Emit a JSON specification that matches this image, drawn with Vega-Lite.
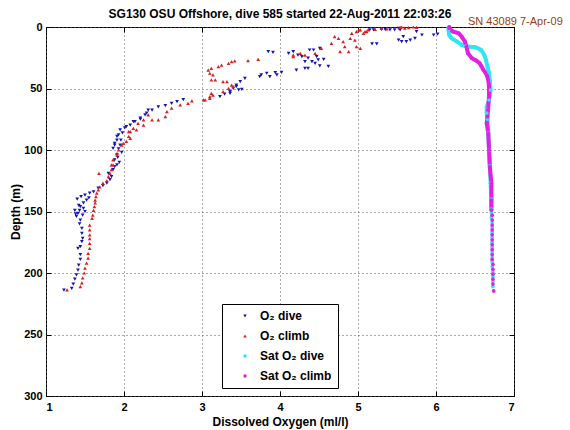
{
  "$schema": "https://vega.github.io/schema/vega-lite/v6.json",
  "width": 468,
  "height": 369,
  "autosize": {"type": "none"},
  "padding": {"left": 46, "top": 27, "right": 56, "bottom": 34},
  "background": "white",
  "title": {"text": "SG130 OSU Offshore, dive 585 started 22-Aug-2011 22:03:26", "font": "Liberation Sans", "fontSize": 12, "fontWeight": "bold", "color": "black", "offset": 8, "dy": 13, "anchor": "middle"},
  "config": {
    "view": {"stroke": "black", "strokeWidth": 1},
    "axis": {"labelFont": "Liberation Sans", "labelFontSize": 11, "labelFontWeight": "bold", "labelColor": "black", "tickColor": "black", "domain": false, "gridDash": [1, 3], "gridColor": "#555", "gridOpacity": 1, "titleFont": "Liberation Sans", "titleFontSize": 12, "titleFontWeight": "bold", "titleColor": "black"},
    "legend": {"orient": "none", "legendX": 176, "legendY": 277, "strokeColor": "black", "fillColor": "white", "padding": 6, "symbolOffset": 11, "labelOffset": 9, "labelFont": "Liberation Sans", "labelFontSize": 12, "labelFontWeight": "bold", "labelColor": "black", "symbolSize": 12, "rowPadding": 8}
  },
  "datasets": {
    "obs": [
      {"series":"O₂ dive","o2":5.15,"depth":2.4},{"series":"O₂ dive","o2":5.20,"depth":2.4},{"series":"O₂ dive","o2":5.30,"depth":2.0},{"series":"O₂ dive","o2":5.35,"depth":2.2},{"series":"O₂ dive","o2":5.41,"depth":2.4},{"series":"O₂ dive","o2":5.47,"depth":2.4},{"series":"O₂ dive","o2":5.52,"depth":1.1},{"series":"O₂ dive","o2":5.54,"depth":2.4},{"series":"O₂ dive","o2":5.75,"depth":3.8},{"series":"O₂ dive","o2":5.82,"depth":6.5},{"series":"O₂ dive","o2":5.97,"depth":6.5},{"series":"O₂ dive","o2":6.02,"depth":5.7},{"series":"O₂ dive","o2":5.58,"depth":7.9},{"series":"O₂ dive","o2":5.73,"depth":9.2},{"series":"O₂ dive","o2":5.67,"depth":10.6},{"series":"O₂ dive","o2":5.52,"depth":10.6},{"series":"O₂ dive","o2":5.56,"depth":11.9},{"series":"O₂ dive","o2":5.62,"depth":11.9},{"series":"O₂ dive","o2":5.18,"depth":13.8},{"series":"O₂ dive","o2":5.24,"depth":13.8},
      {"series":"O₂ dive","o2":4.38,"depth":18.7},{"series":"O₂ dive","o2":4.43,"depth":18.7},{"series":"O₂ dive","o2":4.51,"depth":17.4},{"series":"O₂ dive","o2":3.85,"depth":20.0},{"series":"O₂ dive","o2":3.91,"depth":20.6},{"series":"O₂ dive","o2":4.11,"depth":21.4},{"series":"O₂ dive","o2":4.17,"depth":20.0},{"series":"O₂ dive","o2":4.23,"depth":22.8},{"series":"O₂ dive","o2":4.28,"depth":24.1},{"series":"O₂ dive","o2":4.47,"depth":24.1},{"series":"O₂ dive","o2":4.36,"depth":25.4},{"series":"O₂ dive","o2":4.56,"depth":26.3},{"series":"O₂ dive","o2":4.49,"depth":26.8},{"series":"O₂ dive","o2":4.32,"depth":28.2},{"series":"O₂ dive","o2":4.41,"depth":28.2},{"series":"O₂ dive","o2":4.45,"depth":29.5},{"series":"O₂ dive","o2":4.51,"depth":31.7},{"series":"O₂ dive","o2":4.62,"depth":32.0},{"series":"O₂ dive","o2":4.32,"depth":33.6},{"series":"O₂ dive","o2":4.36,"depth":33.6},{"series":"O₂ dive","o2":4.21,"depth":35.0},{"series":"O₂ dive","o2":4.02,"depth":36.8},{"series":"O₂ dive","o2":3.94,"depth":37.1},{"series":"O₂ dive","o2":3.83,"depth":37.6},{"series":"O₂ dive","o2":3.76,"depth":39.0},{"series":"O₂ dive","o2":3.96,"depth":39.0},{"series":"O₂ dive","o2":3.74,"depth":40.4},{"series":"O₂ dive","o2":3.87,"depth":40.4},{"series":"O₂ dive","o2":3.55,"depth":41.7},{"series":"O₂ dive","o2":3.49,"depth":44.4},{"series":"O₂ dive","o2":3.44,"depth":47.2},{"series":"O₂ dive","o2":3.44,"depth":48.5},{"series":"O₂ dive","o2":3.40,"depth":49.9},{"series":"O₂ dive","o2":3.51,"depth":50.7},{"series":"O₂ dive","o2":3.47,"depth":51.2},{"series":"O₂ dive","o2":3.36,"depth":52.6},{"series":"O₂ dive","o2":3.36,"depth":54.0},{"series":"O₂ dive","o2":3.29,"depth":54.5},{"series":"O₂ dive","o2":3.23,"depth":56.7},
      {"series":"O₂ dive","o2":2.76,"depth":59.0},{"series":"O₂ dive","o2":2.68,"depth":60.7},{"series":"O₂ dive","o2":2.61,"depth":62.0},{"series":"O₂ dive","o2":2.53,"depth":64.0},{"series":"O₂ dive","o2":2.44,"depth":65.0},{"series":"O₂ dive","o2":2.36,"depth":67.5},{"series":"O₂ dive","o2":2.31,"depth":67.5},{"series":"O₂ dive","o2":2.29,"depth":70.0},{"series":"O₂ dive","o2":2.27,"depth":71.5},{"series":"O₂ dive","o2":2.21,"depth":74.0},{"series":"O₂ dive","o2":2.21,"depth":75.0},{"series":"O₂ dive","o2":2.14,"depth":77.0},{"series":"O₂ dive","o2":2.12,"depth":77.0},{"series":"O₂ dive","o2":2.08,"depth":79.7},{"series":"O₂ dive","o2":2.03,"depth":81.0},{"series":"O₂ dive","o2":2.01,"depth":82.0},{"series":"O₂ dive","o2":1.95,"depth":83.7},{"series":"O₂ dive","o2":1.98,"depth":86.0},{"series":"O₂ dive","o2":1.93,"depth":87.8},{"series":"O₂ dive","o2":1.91,"depth":89.0},{"series":"O₂ dive","o2":1.91,"depth":91.9},{"series":"O₂ dive","o2":1.96,"depth":92.0},{"series":"O₂ dive","o2":1.88,"depth":94.6},{"series":"O₂ dive","o2":1.95,"depth":96.0},{"series":"O₂ dive","o2":1.88,"depth":96.0},{"series":"O₂ dive","o2":1.86,"depth":98.6},{"series":"O₂ dive","o2":1.93,"depth":99.0},{"series":"O₂ dive","o2":1.97,"depth":102.0},{"series":"O₂ dive","o2":1.91,"depth":104.0},{"series":"O₂ dive","o2":1.92,"depth":106.0},{"series":"O₂ dive","o2":1.88,"depth":108.0},{"series":"O₂ dive","o2":1.94,"depth":110.0},{"series":"O₂ dive","o2":1.91,"depth":112.0},{"series":"O₂ dive","o2":1.88,"depth":113.6},{"series":"O₂ dive","o2":1.86,"depth":116.0},{"series":"O₂ dive","o2":1.80,"depth":119.0},{"series":"O₂ dive","o2":1.84,"depth":121.7},{"series":"O₂ dive","o2":1.82,"depth":124.0},{"series":"O₂ dive","o2":1.78,"depth":127.0},{"series":"O₂ dive","o2":1.73,"depth":129.0},{"series":"O₂ dive","o2":1.67,"depth":131.0},{"series":"O₂ dive","o2":1.61,"depth":134.0},{"series":"O₂ dive","o2":1.56,"depth":135.0},{"series":"O₂ dive","o2":1.50,"depth":136.6},{"series":"O₂ dive","o2":1.45,"depth":138.0},{"series":"O₂ dive","o2":1.55,"depth":139.0},{"series":"O₂ dive","o2":1.40,"depth":140.0},{"series":"O₂ dive","o2":1.52,"depth":140.7},{"series":"O₂ dive","o2":1.48,"depth":143.0},{"series":"O₂ dive","o2":1.42,"depth":145.0},{"series":"O₂ dive","o2":1.44,"depth":146.0},{"series":"O₂ dive","o2":1.48,"depth":147.4},{"series":"O₂ dive","o2":1.37,"depth":149.0},{"series":"O₂ dive","o2":1.43,"depth":149.0},{"series":"O₂ dive","o2":1.50,"depth":150.0},{"series":"O₂ dive","o2":1.41,"depth":151.5},{"series":"O₂ dive","o2":1.38,"depth":152.0},{"series":"O₂ dive","o2":1.47,"depth":153.0},{"series":"O₂ dive","o2":1.39,"depth":154.0},{"series":"O₂ dive","o2":1.44,"depth":157.0},{"series":"O₂ dive","o2":1.43,"depth":160.0},{"series":"O₂ dive","o2":1.46,"depth":163.7},{"series":"O₂ dive","o2":1.46,"depth":167.7},{"series":"O₂ dive","o2":1.47,"depth":171.8},{"series":"O₂ dive","o2":1.46,"depth":174.5},{"series":"O₂ dive","o2":1.44,"depth":178.6},{"series":"O₂ dive","o2":1.41,"depth":180.0},{"series":"O₂ dive","o2":1.44,"depth":185.0},{"series":"O₂ dive","o2":1.44,"depth":189.0},{"series":"O₂ dive","o2":1.42,"depth":193.5},{"series":"O₂ dive","o2":1.41,"depth":197.6},{"series":"O₂ dive","o2":1.39,"depth":201.6},{"series":"O₂ dive","o2":1.37,"depth":205.0},{"series":"O₂ dive","o2":1.35,"depth":209.0},{"series":"O₂ dive","o2":1.33,"depth":212.5},{"series":"O₂ dive","o2":1.23,"depth":214.0},
      {"series":"O₂ climb","o2":5.56,"depth":0.0},{"series":"O₂ climb","o2":5.71,"depth":0.0},{"series":"O₂ climb","o2":5.54,"depth":0.3},{"series":"O₂ climb","o2":5.75,"depth":0.3},{"series":"O₂ climb","o2":5.65,"depth":0.5},{"series":"O₂ climb","o2":5.60,"depth":1.0},{"series":"O₂ climb","o2":5.30,"depth":1.1},{"series":"O₂ climb","o2":5.37,"depth":1.6},{"series":"O₂ climb","o2":5.22,"depth":1.9},{"series":"O₂ climb","o2":5.01,"depth":2.4},{"series":"O₂ climb","o2":5.03,"depth":2.4},{"series":"O₂ climb","o2":5.13,"depth":2.4},{"series":"O₂ climb","o2":4.98,"depth":3.8},{"series":"O₂ climb","o2":5.09,"depth":3.8},{"series":"O₂ climb","o2":5.11,"depth":3.8},{"series":"O₂ climb","o2":4.92,"depth":5.1},{"series":"O₂ climb","o2":5.07,"depth":5.1},{"series":"O₂ climb","o2":4.70,"depth":7.9},{"series":"O₂ climb","o2":4.75,"depth":9.2},{"series":"O₂ climb","o2":4.90,"depth":9.2},{"series":"O₂ climb","o2":4.96,"depth":10.6},{"series":"O₂ climb","o2":4.81,"depth":11.9},{"series":"O₂ climb","o2":4.66,"depth":13.3},{"series":"O₂ climb","o2":4.83,"depth":16.0},{"series":"O₂ climb","o2":4.98,"depth":16.0},{"series":"O₂ climb","o2":4.53,"depth":17.4},{"series":"O₂ climb","o2":5.03,"depth":17.4},{"series":"O₂ climb","o2":4.77,"depth":20.0},{"series":"O₂ climb","o2":4.88,"depth":20.0},{"series":"O₂ climb","o2":4.26,"depth":21.4},{"series":"O₂ climb","o2":4.45,"depth":21.4},{"series":"O₂ climb","o2":4.17,"depth":22.8},{"series":"O₂ climb","o2":4.32,"depth":22.8},{"series":"O₂ climb","o2":4.17,"depth":24.1},{"series":"O₂ climb","o2":3.72,"depth":26.3},{"series":"O₂ climb","o2":3.59,"depth":27.4},{"series":"O₂ climb","o2":3.42,"depth":27.6},{"series":"O₂ climb","o2":3.38,"depth":28.2},{"series":"O₂ climb","o2":3.34,"depth":29.5},{"series":"O₂ climb","o2":3.25,"depth":30.9},{"series":"O₂ climb","o2":3.21,"depth":32.3},{"series":"O₂ climb","o2":3.12,"depth":33.6},{"series":"O₂ climb","o2":3.08,"depth":35.0},{"series":"O₂ climb","o2":3.10,"depth":37.6},{"series":"O₂ climb","o2":3.14,"depth":39.0},{"series":"O₂ climb","o2":3.12,"depth":43.0},{"series":"O₂ climb","o2":3.17,"depth":43.0},{"series":"O₂ climb","o2":3.27,"depth":44.4},{"series":"O₂ climb","o2":3.32,"depth":44.4},{"series":"O₂ climb","o2":3.38,"depth":47.2},{"series":"O₂ climb","o2":3.40,"depth":48.5},{"series":"O₂ climb","o2":3.34,"depth":49.9},{"series":"O₂ climb","o2":3.27,"depth":52.6},{"series":"O₂ climb","o2":3.12,"depth":54.0},{"series":"O₂ climb","o2":3.14,"depth":55.3},{"series":"O₂ climb","o2":3.10,"depth":56.7},{"series":"O₂ climb","o2":3.10,"depth":58.0},{"series":"O₂ climb","o2":3.02,"depth":59.3},{"series":"O₂ climb","o2":3.04,"depth":59.3},{"series":"O₂ climb","o2":2.87,"depth":60.0},{"series":"O₂ climb","o2":2.82,"depth":62.0},{"series":"O₂ climb","o2":2.72,"depth":63.4},{"series":"O₂ climb","o2":2.61,"depth":66.0},{"series":"O₂ climb","o2":2.55,"depth":68.8},{"series":"O₂ climb","o2":2.31,"depth":71.5},{"series":"O₂ climb","o2":2.53,"depth":72.9},{"series":"O₂ climb","o2":2.25,"depth":75.6},{"series":"O₂ climb","o2":2.36,"depth":75.6},{"series":"O₂ climb","o2":2.44,"depth":75.6},{"series":"O₂ climb","o2":2.18,"depth":78.3},{"series":"O₂ climb","o2":2.25,"depth":79.7},{"series":"O₂ climb","o2":2.12,"depth":82.4},{"series":"O₂ climb","o2":2.16,"depth":83.7},{"series":"O₂ climb","o2":2.06,"depth":85.0},{"series":"O₂ climb","o2":2.08,"depth":85.0},{"series":"O₂ climb","o2":2.06,"depth":89.0},{"series":"O₂ climb","o2":2.08,"depth":90.5},{"series":"O₂ climb","o2":2.03,"depth":93.0},{"series":"O₂ climb","o2":1.99,"depth":94.6},{"series":"O₂ climb","o2":1.97,"depth":96.0},{"series":"O₂ climb","o2":1.93,"depth":100.0},{"series":"O₂ climb","o2":1.91,"depth":102.7},{"series":"O₂ climb","o2":1.91,"depth":104.0},{"series":"O₂ climb","o2":1.86,"depth":108.0},{"series":"O₂ climb","o2":1.84,"depth":112.0},{"series":"O₂ climb","o2":1.86,"depth":112.0},{"series":"O₂ climb","o2":1.84,"depth":116.0},{"series":"O₂ climb","o2":1.68,"depth":119.0},{"series":"O₂ climb","o2":1.82,"depth":119.0},{"series":"O₂ climb","o2":1.80,"depth":121.7},{"series":"O₂ climb","o2":1.78,"depth":125.0},{"series":"O₂ climb","o2":1.73,"depth":127.0},{"series":"O₂ climb","o2":1.69,"depth":130.0},{"series":"O₂ climb","o2":1.67,"depth":132.5},{"series":"O₂ climb","o2":1.65,"depth":135.0},{"series":"O₂ climb","o2":1.64,"depth":138.0},{"series":"O₂ climb","o2":1.63,"depth":140.7},{"series":"O₂ climb","o2":1.63,"depth":143.0},{"series":"O₂ climb","o2":1.62,"depth":146.0},{"series":"O₂ climb","o2":1.61,"depth":149.0},{"series":"O₂ climb","o2":1.60,"depth":153.0},{"series":"O₂ climb","o2":1.59,"depth":155.5},{"series":"O₂ climb","o2":1.56,"depth":161.0},{"series":"O₂ climb","o2":1.56,"depth":165.0},{"series":"O₂ climb","o2":1.56,"depth":169.0},{"series":"O₂ climb","o2":1.56,"depth":172.0},{"series":"O₂ climb","o2":1.56,"depth":176.0},{"series":"O₂ climb","o2":1.56,"depth":180.0},{"series":"O₂ climb","o2":1.54,"depth":184.0},{"series":"O₂ climb","o2":1.54,"depth":188.0},{"series":"O₂ climb","o2":1.52,"depth":192.0},{"series":"O₂ climb","o2":1.50,"depth":196.0},{"series":"O₂ climb","o2":1.49,"depth":200.0},{"series":"O₂ climb","o2":1.47,"depth":204.0},{"series":"O₂ climb","o2":1.46,"depth":208.0},{"series":"O₂ climb","o2":1.44,"depth":211.0},{"series":"O₂ climb","o2":1.27,"depth":213.8},
      {"series":"Sat O₂ dive","o2":6.16,"depth":0.5},{"series":"Sat O₂ dive","o2":6.16,"depth":2.4},{"series":"Sat O₂ dive","o2":6.17,"depth":6.5},{"series":"Sat O₂ dive","o2":6.20,"depth":9.2},{"series":"Sat O₂ dive","o2":6.27,"depth":11.9},{"series":"Sat O₂ dive","o2":6.33,"depth":14.6},{"series":"Sat O₂ dive","o2":6.38,"depth":15.5},{"series":"Sat O₂ dive","o2":6.44,"depth":16.0},{"series":"Sat O₂ dive","o2":6.50,"depth":16.3},{"series":"Sat O₂ dive","o2":6.54,"depth":17.4},{"series":"Sat O₂ dive","o2":6.58,"depth":18.7},{"series":"Sat O₂ dive","o2":6.62,"depth":22.8},{"series":"Sat O₂ dive","o2":6.64,"depth":26.8},{"series":"Sat O₂ dive","o2":6.66,"depth":32.3},{"series":"Sat O₂ dive","o2":6.68,"depth":37.6},{"series":"Sat O₂ dive","o2":6.69,"depth":43.0},{"series":"Sat O₂ dive","o2":6.70,"depth":51.2},{"series":"Sat O₂ dive","o2":6.68,"depth":59.3},{"series":"Sat O₂ dive","o2":6.65,"depth":64.8},{"series":"Sat O₂ dive","o2":6.65,"depth":70.0},{"series":"Sat O₂ dive","o2":6.66,"depth":75.0},{"series":"Sat O₂ dive","o2":6.67,"depth":86.0},{"series":"Sat O₂ dive","o2":6.68,"depth":100.0},{"series":"Sat O₂ dive","o2":6.69,"depth":113.0},{"series":"Sat O₂ dive","o2":6.70,"depth":127.0},{"series":"Sat O₂ dive","o2":6.71,"depth":140.0},{"series":"Sat O₂ dive","o2":6.71,"depth":148.0},{"series":"Sat O₂ dive","o2":6.71,"depth":151},{"series":"Sat O₂ dive","o2":6.71,"depth":155},{"series":"Sat O₂ dive","o2":6.72,"depth":159},{"series":"Sat O₂ dive","o2":6.72,"depth":163},{"series":"Sat O₂ dive","o2":6.72,"depth":167},{"series":"Sat O₂ dive","o2":6.72,"depth":171},{"series":"Sat O₂ dive","o2":6.72,"depth":175},{"series":"Sat O₂ dive","o2":6.72,"depth":179},{"series":"Sat O₂ dive","o2":6.72,"depth":183},{"series":"Sat O₂ dive","o2":6.72,"depth":187},{"series":"Sat O₂ dive","o2":6.72,"depth":191},{"series":"Sat O₂ dive","o2":6.72,"depth":195},{"series":"Sat O₂ dive","o2":6.73,"depth":199},{"series":"Sat O₂ dive","o2":6.73,"depth":203},{"series":"Sat O₂ dive","o2":6.73,"depth":207},{"series":"Sat O₂ dive","o2":6.73,"depth":211},
      {"series":"Sat O₂ climb","o2":6.17,"depth":0.0},{"series":"Sat O₂ climb","o2":6.17,"depth":1.0},{"series":"Sat O₂ climb","o2":6.22,"depth":3.8},{"series":"Sat O₂ climb","o2":6.29,"depth":5.1},{"series":"Sat O₂ climb","o2":6.33,"depth":7.9},{"series":"Sat O₂ climb","o2":6.37,"depth":11.9},{"series":"Sat O₂ climb","o2":6.39,"depth":16.0},{"series":"Sat O₂ climb","o2":6.41,"depth":21.4},{"series":"Sat O₂ climb","o2":6.46,"depth":25.4},{"series":"Sat O₂ climb","o2":6.52,"depth":27.4},{"series":"Sat O₂ climb","o2":6.56,"depth":29.5},{"series":"Sat O₂ climb","o2":6.61,"depth":35.0},{"series":"Sat O₂ climb","o2":6.65,"depth":39.0},{"series":"Sat O₂ climb","o2":6.67,"depth":43.0},{"series":"Sat O₂ climb","o2":6.68,"depth":48.5},{"series":"Sat O₂ climb","o2":6.68,"depth":56.7},{"series":"Sat O₂ climb","o2":6.67,"depth":64.8},{"series":"Sat O₂ climb","o2":6.66,"depth":72.9},{"series":"Sat O₂ climb","o2":6.65,"depth":78.3},{"series":"Sat O₂ climb","o2":6.67,"depth":86.4},{"series":"Sat O₂ climb","o2":6.68,"depth":100.0},{"series":"Sat O₂ climb","o2":6.69,"depth":113.6},{"series":"Sat O₂ climb","o2":6.71,"depth":127.0},{"series":"Sat O₂ climb","o2":6.71,"depth":140.7},{"series":"Sat O₂ climb","o2":6.71,"depth":148.8},{"series":"Sat O₂ climb","o2":6.72,"depth":153},{"series":"Sat O₂ climb","o2":6.72,"depth":157},{"series":"Sat O₂ climb","o2":6.72,"depth":161},{"series":"Sat O₂ climb","o2":6.72,"depth":165},{"series":"Sat O₂ climb","o2":6.72,"depth":169},{"series":"Sat O₂ climb","o2":6.72,"depth":173},{"series":"Sat O₂ climb","o2":6.72,"depth":177},{"series":"Sat O₂ climb","o2":6.72,"depth":181},{"series":"Sat O₂ climb","o2":6.72,"depth":185},{"series":"Sat O₂ climb","o2":6.72,"depth":189},{"series":"Sat O₂ climb","o2":6.73,"depth":193},{"series":"Sat O₂ climb","o2":6.73,"depth":197},{"series":"Sat O₂ climb","o2":6.73,"depth":201},{"series":"Sat O₂ climb","o2":6.73,"depth":205},{"series":"Sat O₂ climb","o2":6.73,"depth":209},{"series":"Sat O₂ climb","o2":6.74,"depth":214.6}
    ]
  },
  "data": {"name": "obs"},
  "resolve": {"axis": {"x": "independent", "y": "independent"}},
  "layer": [
    {
      "transform": [
        {"filter": {"field": "series", "oneOf": ["Sat O₂ dive", "Sat O₂ climb"]}},
        {"filter": {"field": "depth", "lte": 150}}
      ],
      "mark": {"type": "line", "strokeWidth": 4, "strokeJoin": "round", "strokeCap": "round"},
      "encoding": {
        "x": {"field": "o2", "type": "quantitative", "scale": {"domain": [1, 7], "nice": false, "zero": false}, "axis": {"orient": "top", "labels": false, "grid": false, "title": null, "values": [1, 2, 3, 4, 5, 6, 7], "tickSize": -5}},
        "y": {"field": "depth", "type": "quantitative", "scale": {"domain": [0, 300], "reverse": true, "nice": false, "zero": false}, "axis": {"orient": "right", "labels": false, "grid": false, "title": null, "values": [0, 50, 100, 150, 200, 250, 300], "tickSize": -5}},
        "stroke": {"field": "series", "type": "nominal", "scale": {"domain": ["Sat O₂ dive", "Sat O₂ climb"], "range": ["#2ee6ee", "#e41ee4"]}, "legend": null},
        "order": {"field": "depth", "type": "quantitative"}
      }
    },
    {
      "mark": {"type": "point", "filled": true, "size": 14, "opacity": 1},
      "encoding": {
        "x": {"field": "o2", "type": "quantitative", "scale": {"domain": [1, 7], "nice": false, "zero": false}, "axis": {"orient": "bottom", "values": [1, 2, 3, 4, 5, 6, 7], "format": "d", "grid": true, "tickSize": -5, "labelPadding": 10, "title": "Dissolved Oxygen (ml/l)", "titlePadding": 4}},
        "y": {"field": "depth", "type": "quantitative", "scale": {"domain": [0, 300], "reverse": true, "nice": false, "zero": false}, "axis": {"orient": "left", "values": [0, 50, 100, 150, 200, 250, 300], "format": "d", "grid": true, "tickSize": -5, "labelPadding": 9, "title": "Depth (m)", "titlePadding": 1}},
        "color": {"field": "series", "type": "nominal", "title": null, "scale": {"domain": ["O₂ dive", "O₂ climb", "Sat O₂ dive", "Sat O₂ climb"], "range": ["#1414b4", "#dc1e1e", "#2ee6ee", "#e41ee4"]}},
        "shape": {"field": "series", "type": "nominal", "title": null, "scale": {"domain": ["O₂ dive", "O₂ climb", "Sat O₂ dive", "Sat O₂ climb"], "range": ["triangle-down", "triangle-up", "circle", "circle"]}}
      }
    },
    {
      "data": {"values": [{"note": "SN 43089 7-Apr-09"}]},
      "mark": {"type": "text", "align": "left", "baseline": "middle", "color": "#9a3d0e", "font": "Liberation Sans", "fontSize": 11},
      "encoding": {
        "x": {"datum": 6.41, "type": "quantitative", "axis": null},
        "y": {"datum": -4, "type": "quantitative", "axis": null},
        "text": {"field": "note"}
      }
    }
  ]
}
